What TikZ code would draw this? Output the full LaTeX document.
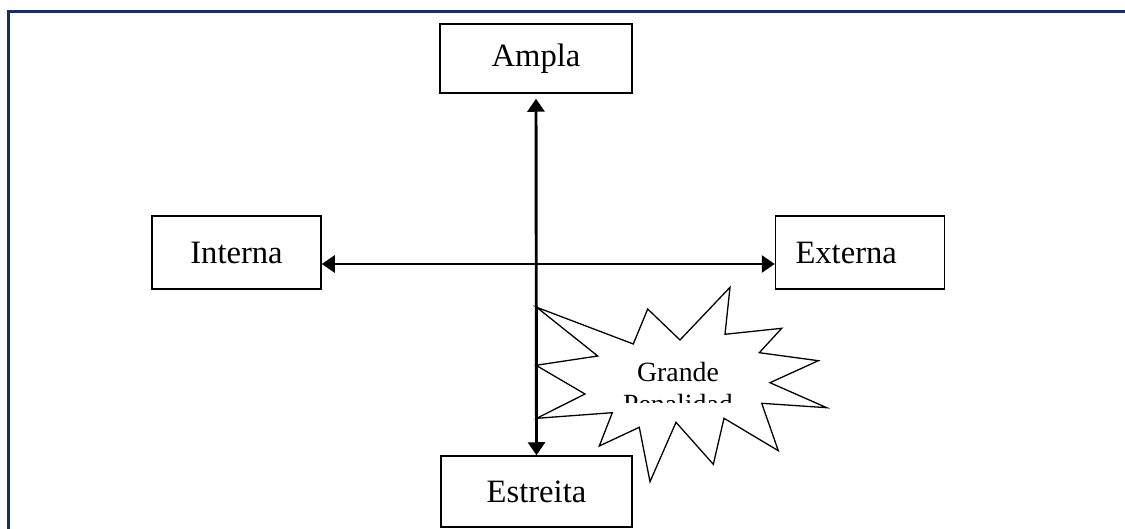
\documentclass[tikz,border=0pt]{standalone}
\usepackage{fontspec}
\setmainfont{Liberation Serif}
\usepackage{xcolor}
\usetikzlibrary{arrows.meta, positioning}
\definecolor{framenavy}{RGB}{22,44,110}

\begin{document}
\begin{tikzpicture}[x=0.5pt, y=-0.5pt,
    font=\fontsize{16.3}{19}\selectfont,
    catbox/.style={rectangle, draw, line width=0.75pt, fill=white, inner sep=0pt,
                   minimum width=84.5pt, minimum height=36.5pt},
    axisline/.style={line width=1.45pt, {Triangle[width=8.5pt,length=6.5pt]}-{Triangle[width=8.5pt,length=6.5pt]}},
    burst/.style={draw, line width=0.65pt, fill=white, line join=miter}]
  \useasboundingbox (0,0) rectangle (1125,529);
  \fill[white] (0,0) rectangle (1125,529);
  % outer frame
  \draw[framenavy, line width=1.1pt] (8.5,540) -- (8.5,11.5) -- (1135,11.5);

  \node[catbox, minimum width=96pt, minimum height=34.5pt] (ampla) at (536,58.5) {Ampla};
  \node[catbox] (interna) at (236.5,252.5) {Interna};
  \node[catbox, text width=64.5pt, inner xsep=10pt, align=left] (externa) at (860,252.5) {Externa};
  \node[catbox, minimum width=95.5pt, minimum height=35.5pt] (estreita) at (536.5,491.5) {Estreita};
  \coordinate (mid) at (536,264);

  \draw[axisline, shorten <=2.5pt] (ampla.south) -- (estreita.north);
  \draw[axisline] (interna.east |- mid) -- (externa.west |- mid);

  % explosion
  \draw[burst] (536.7,307.3) -- (633.3,344) -- (647.7,309) -- (680,340) -- (730,287.3)
    -- (725,334.3) -- (781.7,328.3) -- (759.3,352.7) -- (818.3,360.7) -- (770,382.7)
    -- (826.7,407.7) -- (761.7,403.3) -- (778.3,450.7) -- (724,418.3) -- (713.3,464.3)
    -- (676,422.3) -- (650,481.7) -- (639.3,427.3) -- (599.3,446) -- (612.3,412.7)
    -- (536.7,418.3) -- (585,394) -- (536,365.3) -- (597.7,356) -- cycle;
  \begin{scope}
    \clip (600,340) rectangle (760,402.7);
    \node[font=\fontsize{13.9}{16.5}\selectfont, align=center, anchor=base, inner sep=0pt]
      (penalty) at (678,414) {Grande\\Penalidad};
  \end{scope}
\end{tikzpicture}
\end{document}
